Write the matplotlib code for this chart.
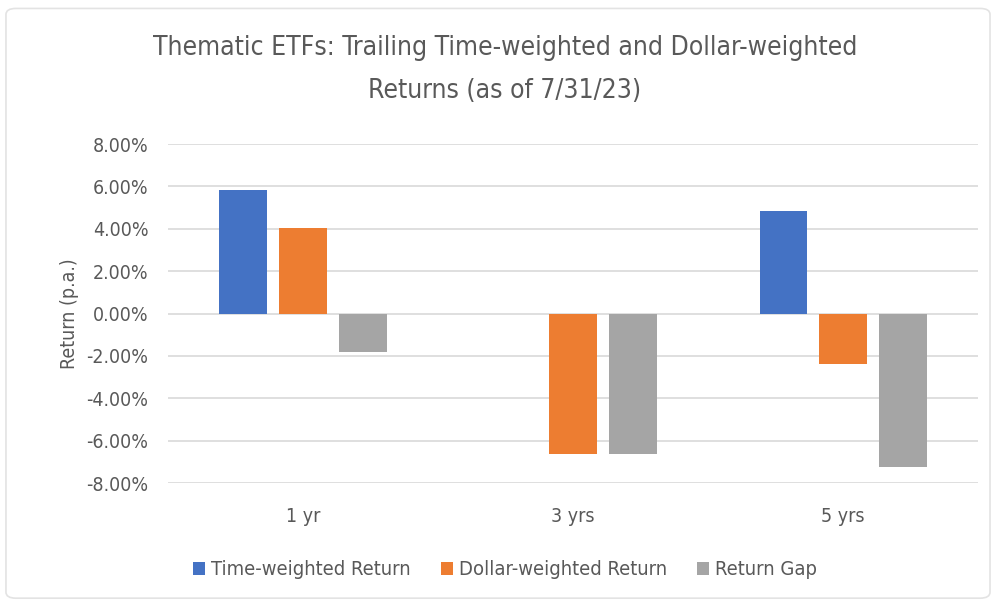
import numpy as np
import matplotlib
matplotlib.use('Agg')
import matplotlib.pyplot as plt
from matplotlib.patches import FancyBboxPatch
from matplotlib.ticker import FuncFormatter, MultipleLocator

plt.rcParams['font.family'] = ['DejaVu Sans']
plt.rcParams['font.stretch'] = 'condensed'

# data (% p.a.)
periods = ['1 yr', '3 yrs', '5 yrs']
time_weighted = [5.85, 0.0, 4.85]
dollar_weighted = [4.05, -6.65, -2.4]
return_gap = [-1.8, -6.65, -7.25]
series_names = ['Time-weighted Return', 'Dollar-weighted Return', 'Return Gap']
colors = ['#4472C4', '#ED7D31', '#A5A5A5']

txt = '#595959'

fig = plt.figure(figsize=(9.94, 6.03), dpi=100)
ax = fig.add_axes([0.169, 0.199, 0.815, 0.562])

# light panel border around the chart
fig.patches.append(FancyBboxPatch((0.006, 0.008), 0.99, 0.978, boxstyle='round,pad=0,rounding_size=0.01',
                                  transform=fig.transFigure, facecolor='none',
                                  edgecolor='#E3E3E3', linewidth=1.2))

x = np.arange(len(periods))
w = 0.175
step = 0.222
for i, (vals, name, c) in enumerate(zip([time_weighted, dollar_weighted, return_gap], series_names, colors)):
    ax.bar(x + (i - 1) * step, vals, width=w, color=c, label=name, zorder=3)

ax.set_xlim(-0.5, 2.5)
ax.set_ylim(-8, 8)
ax.yaxis.set_major_locator(MultipleLocator(2))
ax.yaxis.set_major_formatter(FuncFormatter(lambda v, p: f'{v:.2f}%'))
ax.set_xticks(x)
ax.set_xticklabels(periods)
ax.grid(axis='y', color='#D9D9D9', linewidth=1.2, zorder=0)
ax.grid(axis='x', visible=False)
for s in ax.spines.values():
    s.set_visible(False)
ax.tick_params(length=0, colors=txt, labelsize=14)
ax.tick_params(axis='y', pad=14)
ax.tick_params(axis='x', pad=17)

ax.set_ylabel('Return (p.a.)', color=txt, fontsize=14, labelpad=5)

fig.text(0.508, 0.921, 'Thematic ETFs: Trailing Time-weighted and Dollar-weighted',
         ha='center', va='center', color=txt, fontsize=19)
fig.text(0.508, 0.849, 'Returns (as of 7/31/23)',
         ha='center', va='center', color=txt, fontsize=19)

fig.legend(loc='center', bbox_to_anchor=(0.508, 0.055), ncol=3, frameon=False, fontsize=14.5,
           labelcolor=txt, handlelength=0.6, handleheight=0.6, handletextpad=0.3, columnspacing=1.5)

fig.savefig('out.png', dpi=100, facecolor='white')
